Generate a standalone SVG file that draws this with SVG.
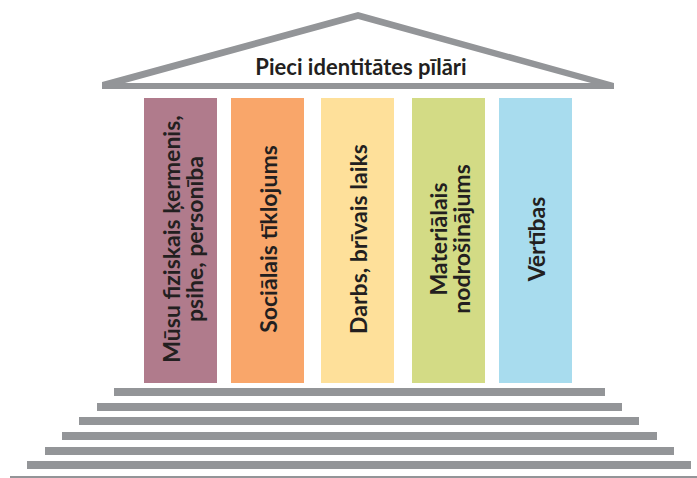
<svg xmlns="http://www.w3.org/2000/svg" width="697" height="478" viewBox="0 0 697 478">
<style>
.gray{fill:#939598}
.lbl{font-family:Lato,"Open Sans","Liberation Sans",sans-serif;font-weight:bold;font-size:23px;fill:#231f20;text-anchor:middle}
.title{font-size:22px}
</style>
<rect width="697" height="478" fill="#ffffff"/>
<g id="roof">
<path class="gray" fill-rule="evenodd" d="M102,82 L358,12 L614,83 L614,89 L102,89 Z M125,83 L358,19 L591,83 Z"/>
<text class="lbl title" x="361" y="75">Pieci identitātes pīlāri</text>
</g>
<g id="pillar1">
<rect x="144" y="98" width="73" height="285" fill="#b07b8c"/>
<text class="lbl" transform="translate(144,239) rotate(-90)"><tspan x="0" y="36">Mūsu fiziskais ķermenis,</tspan><tspan x="0" y="59">psihe, personība</tspan></text>
</g>
<g id="pillar2">
<rect x="231" y="98" width="73" height="285" fill="#f9a66a"/>
<text class="lbl" transform="translate(231,239) rotate(-90)" y="46">Sociālais tīklojums</text>
</g>
<g id="pillar3">
<rect x="321" y="98" width="73" height="285" fill="#fee09a"/>
<text class="lbl" transform="translate(321,239) rotate(-90)" y="46">Darbs, brīvais laiks</text>
</g>
<g id="pillar4">
<rect x="412" y="98" width="73" height="285" fill="#d3db85"/>
<text class="lbl" transform="translate(412,239) rotate(-90)"><tspan x="0" y="35">Materiālais</tspan><tspan x="0" y="58">nodrošinājums</tspan></text>
</g>
<g id="pillar5">
<rect x="499" y="98" width="73" height="285" fill="#a8dcee"/>
<text class="lbl" transform="translate(499,239) rotate(-90)" y="46">Vērtības</text>
</g>
<g id="steps">
<rect class="gray" x="114" y="388" width="491" height="8"/>
<rect class="gray" x="97" y="403" width="525" height="8"/>
<rect class="gray" x="79" y="417" width="560" height="8"/>
<rect class="gray" x="62" y="432" width="595" height="8"/>
<rect class="gray" x="45" y="447" width="629" height="8"/>
<rect class="gray" x="27" y="461" width="664" height="8"/>
<rect class="gray" x="10" y="476" width="687" height="2"/>
</g>
</svg>
